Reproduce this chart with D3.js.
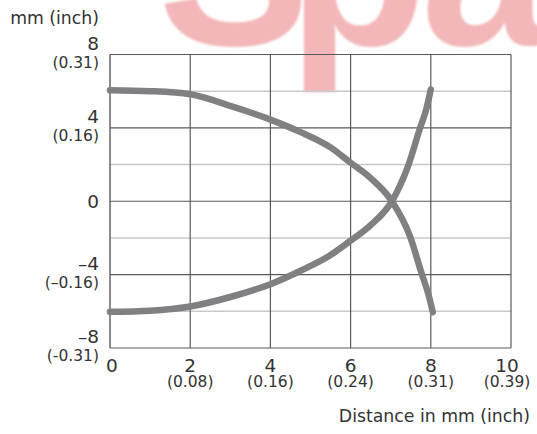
<!DOCTYPE html>
<html>
<head>
<meta charset="utf-8">
<script src="https://cdn.jsdelivr.net/npm/d3@7"></script>
<style>
  html, body { margin: 0; padding: 0; background: #fff; }
  svg { display: block; }
  text { font-family: "DejaVu Sans", sans-serif; fill: #333; }
</style>
</head>
<body>
<script>
// ---- data ----
const xTicks = [0, 2, 4, 6, 8, 10];
const xTickInch = ["", "(0.08)", "(0.16)", "(0.24)", "(0.31)", "(0.39)"];
const yTicks = [8, 4, 0, -4, -8];
const yTickLabels = ["8", "4", "0", "\u20134", "\u20138"];
const yTickInch = ["(0.31)", "(0.16)", "", "(\u20130.16)", "(-0.31)"];
const yMinorGrid = [6, 2, -2, -6];
const xGrid = [2, 4, 6, 8, 10];

// upper curve (mm)
const upperX = [0, 1, 2, 3, 4, 4.74, 5.49, 6, 6.48, 7.03, 7.48, 7.78, 7.93, 8.05];
const upperY = [6.05, 6.0, 5.83, 5.2, 4.45, 3.78, 2.95, 2.1, 1.3, 0, -1.9, -4.0, -5.0, -6.05];
// lower curve (mm)
const lowerX = [0, 1, 2, 3, 4, 4.74, 5.49, 6, 6.5, 7.03, 7.43, 7.73, 7.88, 8.0];
const lowerY = [-6.03, -5.97, -5.74, -5.22, -4.52, -3.8, -2.95, -2.15, -1.3, 0, 1.9, 3.98, 4.96, 6.1];

const yAxisTitle = "mm (inch)";
const xAxisTitle = "Distance in mm (inch)";
const watermark = ["S", "p", "a"];

// ---- layout ----
const W = 537, H = 434;
const svg = d3.select("body").append("svg").attr("width", W).attr("height", H);

const x = d3.scaleLinear().domain([0, 10]).range([110, 511]);
const y = d3.scaleLinear().domain([-8, 8]).range([348, 54.5]);

// watermark (decorative, partly cut off at top in the reference)
const defs = svg.append("defs");
defs.append("filter").attr("id", "soft").append("feGaussianBlur").attr("stdDeviation", 0.8);
const wmX = [158, 288, 421];
const wm = svg.append("g").attr("filter", "url(#soft)");
watermark.forEach((ch, i) => {
  wm.append("text")
    .attr("x", wmX[i]).attr("y", 45)
    .attr("font-size", 228)
    .attr("font-weight", "bold")
    .style("font-family", "'Liberation Sans', Arial, sans-serif")
    .style("fill", "#f3b7b9")
    .text(ch);
});

// light horizontal grid
svg.append("g").selectAll("line").data(yMinorGrid).join("line")
  .attr("x1", x(0)).attr("x2", x(10))
  .attr("y1", d => y(d)).attr("y2", d => y(d))
  .attr("stroke", "#c9c9c9").attr("stroke-width", 1.4);

// dark horizontal grid
svg.append("g").selectAll("line").data(yTicks).join("line")
  .attr("x1", x(0)).attr("x2", x(10))
  .attr("y1", d => y(d)).attr("y2", d => y(d))
  .attr("stroke", "#5a5a5a").attr("stroke-width", 1.2);

// vertical grid
svg.append("g").selectAll("line").data(xGrid).join("line")
  .attr("x1", d => x(d)).attr("x2", d => x(d))
  .attr("y1", y(8)).attr("y2", y(-8))
  .attr("stroke", "#5a5a5a").attr("stroke-width", 1.2);

// left axis line
svg.append("line")
  .attr("x1", x(0)).attr("x2", x(0)).attr("y1", y(8)).attr("y2", y(-8))
  .attr("stroke", "#5a5a5a").attr("stroke-width", 1.4);

// curves
const line = d3.line().x(d => x(d[0])).y(d => y(d[1])).curve(d3.curveMonotoneX);
const upper = upperX.map((v, i) => [v, upperY[i]]);
const lower = lowerX.map((v, i) => [v, lowerY[i]]);
svg.append("g").selectAll("path").data([upper, lower]).join("path")
  .attr("d", line)
  .attr("fill", "none")
  .attr("stroke", "#808083")
  .attr("stroke-width", 6.5)
  .attr("stroke-linecap", "round")
  .attr("stroke-linejoin", "round");

// y tick labels
const yl = svg.append("g");
yTicks.forEach((t, i) => {
  if (yTickInch[i] === "") {
    yl.append("text").attr("x", 99).attr("y", y(t) + 6.5)
      .attr("text-anchor", "end").attr("font-size", 18.5).text(yTickLabels[i]);
  } else {
    yl.append("text").attr("x", 99).attr("y", y(t) - 5)
      .attr("text-anchor", "end").attr("font-size", 18.5).text(yTickLabels[i]);
    yl.append("text").attr("x", 99).attr("y", y(t) + 13)
      .attr("text-anchor", "end").attr("font-size", 15.5).text(yTickInch[i]);
  }
});

// x tick labels
const xl = svg.append("g");
xTicks.forEach((t, i) => {
  const cx = x(t) + (t === 0 ? 2 : (t === 10 ? -4 : 0));
  xl.append("text").attr("x", cx).attr("y", 372)
    .attr("text-anchor", "middle").attr("font-size", 18.5).text(String(t));
  if (xTickInch[i]) {
    xl.append("text").attr("x", cx).attr("y", 387)
      .attr("text-anchor", "middle").attr("font-size", 15.5).text(xTickInch[i]);
  }
});

// axis titles
svg.append("text").attr("x", 99).attr("y", 24)
  .attr("text-anchor", "end").attr("font-size", 17.3).text(yAxisTitle);
svg.append("text").attr("x", 530).attr("y", 422)
  .attr("text-anchor", "end").attr("font-size", 17.3).text(xAxisTitle);
</script>
</body>
</html>
